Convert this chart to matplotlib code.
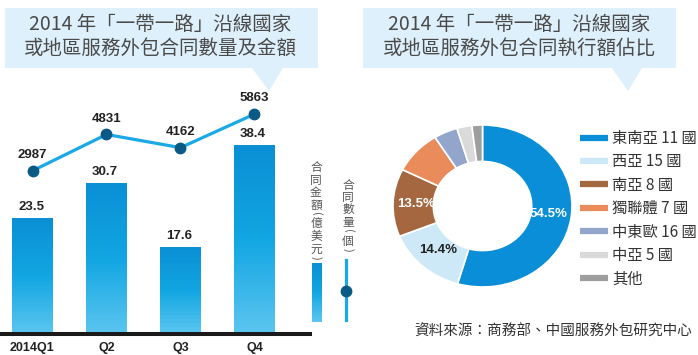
import matplotlib
matplotlib.use("Agg")
import matplotlib.pyplot as plt
import numpy as np
from matplotlib.patches import Rectangle, Polygon
from matplotlib.lines import Line2D
from matplotlib.colors import LinearSegmentedColormap

plt.rcParams['font.family'] = ['Noto Sans CJK TC', 'DejaVu Sans']

# ---------------- data ----------------
quarters = ["2014Q1", "Q2", "Q3", "Q4"]
amounts = [23.5, 30.7, 17.6, 38.4]          # 合同金額 (億美元)
counts = [2987, 4831, 4162, 5863]           # 合同數量 (個)

regions = ["東南亞 11 國", "西亞 15 國", "南亞 8 國", "獨聯體 7 國",
           "中東歐 16 國", "中亞 5 國", "其他"]
shares = [54.5, 14.4, 13.5, 8.7, 4.3, 2.7, 1.9]
region_colors = ["#0A8ED8", "#CDE9F8", "#A5673F", "#E98B5B",
                 "#92A6CC", "#DADADA", "#9E9E9E"]

title_left = ["2014 年「一帶一路」沿線國家", "或地區服務外包合同數量及金額"]
title_right = ["2014 年「一帶一路」沿線國家", "或地區服務外包合同執行額佔比"]
legend_amount = "合同金額(億美元)"
legend_count = "合同數量(個)"
source = "資料來源：商務部、中國服務外包研究中心"

# ---------------- figure ----------------
W, H = 698, 355
fig = plt.figure(figsize=(W / 100, H / 100), dpi=100)
fig.patch.set_facecolor("white")


def fx(x):
    return x / W


def fy(y):
    return 1 - y / H


def axes_px(x0, y_top, x1, y_bot):
    return fig.add_axes([fx(x0), fy(y_bot), (x1 - x0) / W, (y_bot - y_top) / H])


box_color = "#DDF0FB"
title_color = "#4A4A4A"

# title boxes with pointer
for (bx0, bx1, tri, lines, cx) in [
        (5, 318, (252, 283, 269), title_left, 160),
        (363, 676, (612, 642, 628), title_right, 519)]:
    fig.add_artist(Rectangle((fx(bx0), fy(68)), (bx1 - bx0) / W, 60 / H,
                             transform=fig.transFigure, facecolor=box_color,
                             edgecolor="none", zorder=0))
    fig.add_artist(Polygon([(fx(tri[0]), fy(68)), (fx(tri[1]), fy(68)),
                            (fx(tri[2]), fy(91))], closed=True,
                           transform=fig.transFigure, facecolor=box_color,
                           edgecolor="none", zorder=0))
    fig.text(fx(cx), fy(24), lines[0], ha="center", va="center",
             fontsize=14, color=title_color)
    fig.text(fx(cx), fy(48), lines[1], ha="center", va="center",
             fontsize=14, color=title_color)

# ---------------- bar + line chart ----------------
bar_top_cmap = LinearSegmentedColormap.from_list(
    "barg", ["#5CC6F0", "#12A6E2", "#0A8FD5"])

ax = axes_px(0, 95, 310, 334)
x = np.arange(len(quarters))
bw = 0.55
ymax = 239 / 4.9
grad = np.linspace(0, 1, 256).reshape(-1, 1)
for xi, v in zip(x, amounts):
    ax.imshow(grad, extent=[xi - bw / 2, xi + bw / 2, 0, v], origin="lower",
              aspect="auto", cmap=bar_top_cmap, zorder=2)
    ax.annotate(f"{v}", (xi, v), xytext=(-1, 4), textcoords="offset points",
                ha="center", va="bottom", fontsize=9.5, fontweight="bold",
                color="#222222", family=["Liberation Sans", "DejaVu Sans"])
ax.set_xlim(-32.5 / 74, (310 - 32.5) / 74)
ax.set_ylim(0, ymax)
ax.set_xticks(x)
ax.set_xticklabels(quarters, fontweight="bold", fontsize=9,
                   family=["Liberation Sans", "DejaVu Sans"], color="#222222")
ax.tick_params(axis="x", length=0, pad=6)
ax.set_yticks([])
for s in ["top", "right", "left"]:
    ax.spines[s].set_visible(False)
ax.spines["bottom"].set_linewidth(2.9)
ax.spines["bottom"].set_color("#1A1A1A")
ax.patch.set_alpha(0)

ax2 = ax.twinx()
b = 0.019696
a = 104.39
ax2.set_ylim(-a / b, (239 - a) / b)
ax2.plot(x, counts, color="#1AA8E6", lw=2.3, zorder=3)
ax2.plot(x, counts, "o", color="#0B5A86", ms=7.5, zorder=4)
for xi, c in zip(x, counts):
    ax2.annotate(f"{c}", (xi, c), xytext=(0, 7), textcoords="offset points",
                 ha="center", va="bottom", fontsize=9.5, fontweight="bold",
                 color="#222222", family=["Liberation Sans", "DejaVu Sans"])
ax2.set_yticks([])
for s in ax2.spines.values():
    s.set_visible(False)
ax2.set_xlim(ax.get_xlim())


# vertical legend texts
def vertical_text(xc, y_start, text, color="#555555"):
    y = y_start
    for ch in text:
        if ch in "()":
            y += 2
            fig.text(fx(xc), fy(y), ch, ha="center", va="center", rotation=-90,
                     fontsize=8, color=color)
            y += 4
        else:
            y += 6
            fig.text(fx(xc), fy(y), ch, ha="center", va="center",
                     fontsize=8.5, color=color)
            y += 6.5


vertical_text(316, 162, legend_amount)
vertical_text(348, 179, legend_count)

lax = axes_px(312, 263, 322, 322)
lax.imshow(grad, extent=[0, 1, 0, 1], origin="lower", aspect="auto",
           cmap=bar_top_cmap)
lax.set_axis_off()
fig.add_artist(Line2D([fx(346), fx(346)], [fy(260), fy(320)],
                      transform=fig.transFigure, color="#1AA8E6", lw=2.3))
fig.add_artist(Line2D([fx(346)], [fy(291)], transform=fig.transFigure,
                      marker="o", color="#0B5A86", ms=7.5))

# ---------------- donut chart ----------------
pax = axes_px(393, 125, 572, 287)
wedges, _ = pax.pie(shares, colors=region_colors, startangle=90,
                    counterclock=False, radius=1,
                    wedgeprops=dict(width=0.45, edgecolor="white", lw=1.2))
pax.set_aspect("auto")
pax.set_xlim(-1, 1)
pax.set_ylim(-1, 1)
label_colors = ["white", "#222222", "white"]
for w, v, lc in zip(wedges[:3], shares[:3], label_colors):
    ang = np.deg2rad((w.theta1 + w.theta2) / 2)
    r = 0.74
    pax.text(r * np.cos(ang), r * np.sin(ang), f"{v}%", ha="center",
             va="center", fontsize=9.5, fontweight="bold", color=lc,
             family=["Liberation Sans", "DejaVu Sans"])

handles = [Line2D([0], [0], color=c, lw=4.5, solid_capstyle="butt")
           for c in region_colors]
fig.legend(handles, regions, loc="upper left",
           bbox_to_anchor=(fx(580), fy(130)), frameon=False, fontsize=11,
           handlelength=1.8, handletextpad=0.3, labelspacing=0.42,
           borderpad=0, borderaxespad=0, labelcolor="#333333")

fig.text(fx(692), fy(332), source, ha="right", va="center", fontsize=10.5,
         color="#333333")

fig.savefig("out.png", dpi=100)
